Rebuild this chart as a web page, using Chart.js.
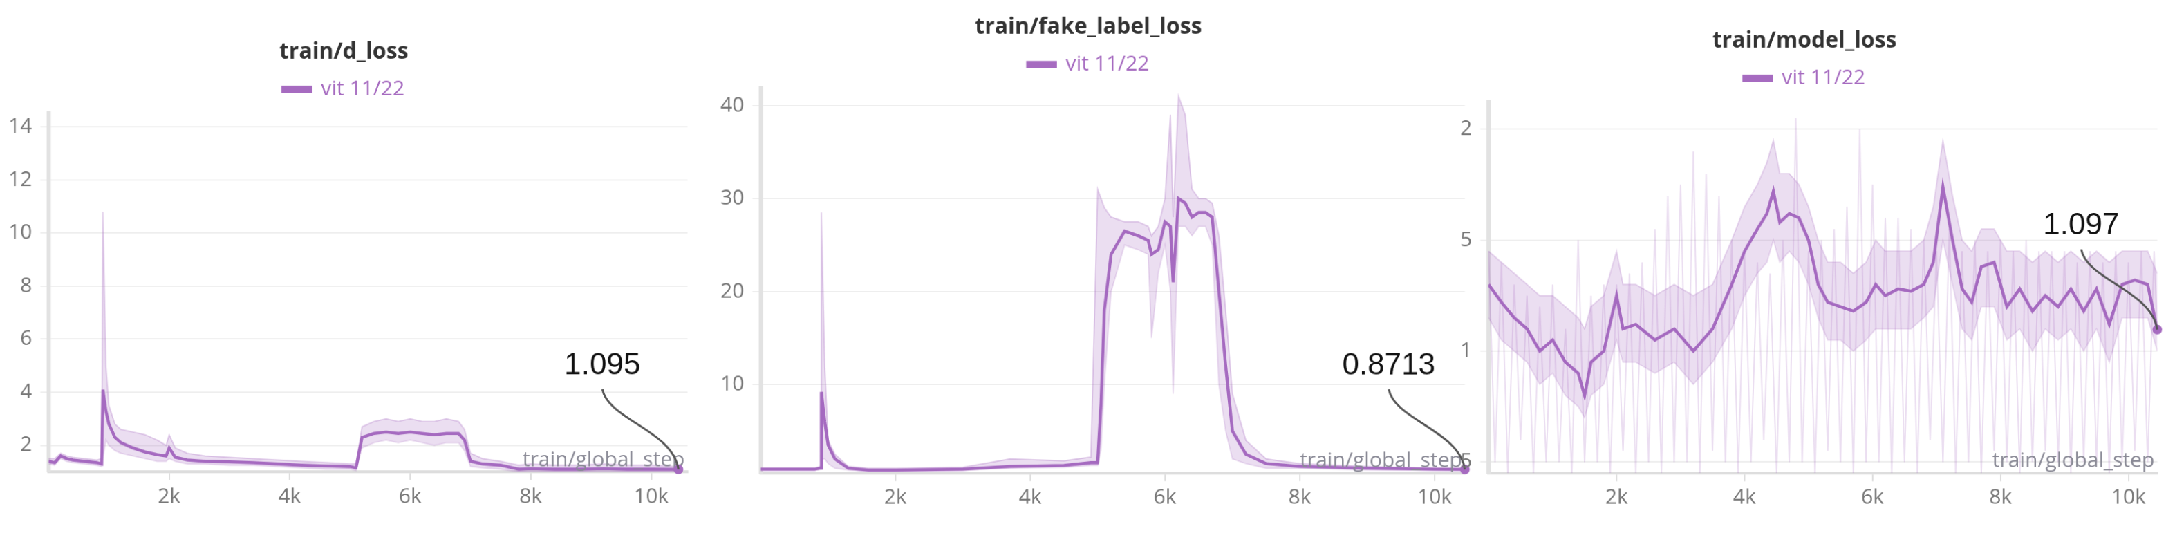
<!DOCTYPE html>
<html><head><meta charset="utf-8">
<script src="https://cdn.jsdelivr.net/npm/chart.js@4"></script>
<style>
body{margin:0;background:#fff;width:2168px;height:538px;position:relative;overflow:hidden}
#wrap{position:absolute;left:0;top:0;width:1568px;height:389px;transform:scale(1.3827);transform-origin:0 0}
.p{position:absolute}
</style></head><body>
<div id="wrap">
<div class="p" style="left:0;top:26px;width:505px;height:345px"><canvas id="c1"></canvas></div>
<div class="p" style="left:515px;top:8px;width:552px;height:364px"><canvas id="c2"></canvas></div>
<div class="p" style="left:1050px;top:18px;width:518px;height:354px"><canvas id="c3"></canvas></div>
</div>
<script>
const seriesName = "vit 11/22";
// Panel 1: train/d_loss
const steps1 = [0,100,200,300,400,600,800,880,900,950,1000,1100,1200,1400,1600,1800,1950,2000,2100,2300,2600,3000,3400,3800,4200,4600,5000,5100,5200,5400,5600,5800,6000,6200,6400,6600,6800,6900,7000,7200,7500,7800,8000,8400,8800,9200,9600,10000,10450];
const d_loss = [1.4,1.35,1.6,1.5,1.45,1.4,1.35,1.3,4.1,3.3,2.8,2.3,2.1,1.9,1.75,1.65,1.6,1.9,1.55,1.45,1.4,1.38,1.35,1.3,1.25,1.22,1.2,1.15,2.3,2.45,2.5,2.45,2.5,2.45,2.4,2.45,2.45,2.2,1.4,1.3,1.25,1.1,1.12,1.1,1.1,1.12,1.1,1.1,1.095];
const d_hi = [1.5,1.5,1.7,1.6,1.55,1.5,1.45,1.5,10.8,5,3.5,2.8,2.6,2.5,2.4,2.2,2.0,2.4,1.9,1.7,1.6,1.55,1.5,1.45,1.4,1.35,1.3,1.3,2.7,2.9,3.0,2.9,3.0,2.9,2.9,3.0,2.9,2.6,1.7,1.5,1.4,1.25,1.3,1.25,1.25,1.3,1.25,1.25,1.2];
const d_lo = [1.3,1.25,1.5,1.4,1.35,1.3,1.25,1.2,1.5,2.2,2.0,1.8,1.7,1.6,1.5,1.4,1.4,1.5,1.4,1.3,1.3,1.25,1.25,1.2,1.15,1.1,1.1,1.05,1.9,2.1,2.2,2.1,2.2,2.1,2.0,2.1,2.1,1.8,1.2,1.15,1.1,1.0,1.0,1.0,1.0,1.0,1.0,1.0,1.0];
const yTicks1 = [2,4,6,8,10,12,14];
// Panel 2: train/fake_label_loss
const steps2 = [0,400,800,880,900,950,1000,1100,1300,1600,2000,3000,3700,4500,4900,5000,5050,5100,5200,5400,5600,5750,5800,5900,6000,6080,6120,6200,6300,6400,6500,6600,6700,6800,6900,7000,7200,7500,8000,9000,10000,10450];
const fake_loss = [0.9,0.9,0.9,1,9.2,6,3.5,2,1.0,0.8,0.8,0.9,1.2,1.3,1.6,1.6,8,18,24,26.5,26,25.5,24,24.5,27.5,27,21,30,29.5,28,28.5,28.5,28,20,12,5,2.5,1.5,1.2,1.0,0.9,0.87];
const fake_hi = [1.0,1.0,1.0,1.2,28.5,12,4,2.5,1.2,1.0,1.0,1.1,2,1.8,2.2,31,30,29,28,27.5,27.5,27,26,27,30,39,28,41,39,31,30,30,29.5,26,18,9,4,2,1.5,1.2,1.0,1.0];
const fake_lo = [0.8,0.8,0.8,0.9,2,2,1.5,1.0,0.8,0.7,0.7,0.8,1.0,1.1,1.3,1.3,3,10,20,25,24.5,24,15,22,25,20,9,27,27,26,27,27,25,10,5,2,1.5,1.0,1.0,0.8,0.8,0.8];
const yTicks2 = [10,20,30,40];
// Panel 3: train/model_loss
const steps3 = [0,200,400,600,800,1000,1200,1400,1500,1600,1800,2000,2100,2300,2600,2900,3200,3500,3800,4000,4200,4350,4450,4550,4700,4850,5000,5150,5300,5500,5700,5900,6050,6200,6400,6600,6800,6950,7100,7250,7400,7550,7700,7900,8100,8300,8500,8700,8900,9100,9300,9500,9700,9900,10100,10300,10450];
const model_loss = [1.3,1.22,1.15,1.1,1.0,1.05,0.95,0.9,0.8,0.95,1.0,1.25,1.1,1.12,1.05,1.1,1.0,1.1,1.3,1.45,1.55,1.62,1.72,1.58,1.62,1.6,1.5,1.3,1.22,1.2,1.18,1.22,1.3,1.25,1.28,1.27,1.3,1.4,1.74,1.5,1.28,1.22,1.38,1.4,1.2,1.28,1.18,1.25,1.2,1.28,1.18,1.28,1.12,1.3,1.32,1.3,1.097];
const model_hi = [1.45,1.4,1.35,1.3,1.25,1.25,1.2,1.15,1.1,1.2,1.25,1.45,1.3,1.3,1.25,1.3,1.25,1.3,1.5,1.65,1.75,1.85,1.95,1.8,1.8,1.75,1.65,1.5,1.4,1.4,1.35,1.4,1.5,1.45,1.45,1.45,1.5,1.65,1.95,1.7,1.5,1.45,1.55,1.55,1.45,1.45,1.4,1.45,1.4,1.45,1.4,1.45,1.4,1.45,1.45,1.45,1.35];
const model_lo = [1.15,1.05,1.0,0.95,0.85,0.9,0.8,0.75,0.7,0.8,0.85,1.05,0.95,0.95,0.9,0.95,0.85,0.95,1.1,1.25,1.35,1.4,1.5,1.4,1.45,1.4,1.3,1.15,1.05,1.05,1.0,1.05,1.1,1.1,1.1,1.1,1.15,1.2,1.5,1.3,1.1,1.05,1.2,1.2,1.05,1.1,1.0,1.1,1.05,1.1,1.0,1.1,0.95,1.15,1.15,1.15,1.0];
const raw3 = [1.45,0.5,1.4,0.45,1.3,0.6,1.25,0.45,1.2,0.5,1.3,0.5,1.1,0.45,1.5,0.5,1.25,0.5,1.3,0.45,1.3,0.55,1.35,0.45,1.4,0.5,1.55,0.45,1.7,0.5,1.75,0.5,1.9,0.45,1.8,0.55,1.7,0.5,1.5,0.45,1.45,0.5,1.4,0.6,1.35,0.45,1.5,0.5,2.05,0.5,1.45,0.45,1.5,0.55,1.55,0.5,1.65,0.45,2.0,0.5,1.75,0.5,1.6,0.45,1.6,0.5,1.55,0.45,1.5,0.6,1.45,0.5,1.55,0.45,1.45,0.5,1.5,0.45,1.45,0.55,1.5,0.5,1.45,0.45,1.5,0.5,1.45,0.55,1.45,0.5,1.45,0.45,1.4,0.5,1.45,0.5,1.4,0.45,1.45,0.5,1.4,0.55,1.45,0.5,1.45,1.1];
const rawSteps3 = raw3.map((_, i) => Math.min(i * 100, 10450));
const yTicks3 = [0.5,1,1.5,2];
const yLabels3 = {"0.5":"5","1":"1","1.5":"5","2":"2"};
const xTicks = [2000,4000,6000,8000,10000];

const PURPLE = '#a66bc0', LIGHT = 'rgba(166,107,192,0.22)';
const FONT = '"Open Sans","Noto Sans",sans-serif';
const DPR = 1.3827 * 1.5;
const pts = (xs, ys) => xs.map((x, i) => ({x, y: ys[i]}));

const annot = (label) => ({
  id: 'annot',
  afterDatasetsDraw(chart) {
    const ds = chart.data.datasets;
    const meta = chart.getDatasetMeta(ds.length - 1);
    const p = meta.data[meta.data.length - 1];
    const ctx = chart.ctx, a = chart.chartArea;
    ctx.save();
    ctx.fillStyle = '#8a8a96'; ctx.font = '15px ' + FONT; ctx.textAlign = 'right'; ctx.textBaseline = 'bottom';
    ctx.fillText('train/global_step', a.right - 2, a.bottom - 1);
    ctx.fillStyle = PURPLE; ctx.beginPath(); ctx.arc(p.x, p.y, 3.5, 0, 7); ctx.fill();
    ctx.strokeStyle = '#555'; ctx.lineWidth = 1.5; ctx.beginPath();
    const tx = p.x - 55, ty = p.y - 58;
    ctx.moveTo(tx, ty); ctx.bezierCurveTo(tx + 4, ty + 22, p.x - 4, ty + 30, p.x, p.y); ctx.stroke();
    ctx.fillStyle = '#111'; ctx.font = '22px "Liberation Sans",Arial,sans-serif'; ctx.textAlign = 'center'; ctx.textBaseline = 'bottom';
    ctx.fillText(label, tx, ty - 6);
    ctx.restore();
  }
});

function make(id, title, datasets, ymin, ymax, yticks, ylab, label, xmax) {
  new Chart(document.getElementById(id), {
    type: 'line',
    data: {datasets},
    options: {
      responsive: true, maintainAspectRatio: false, animation: false, devicePixelRatio: DPR,
      layout: {padding: {right: 8}},
      elements: {point: {radius: 0}, line: {tension: 0}},
      plugins: {
        title: {display: true, text: title, color: '#333', font: {family: FONT, size: 16, weight: 'bold'}, padding: {top: 2, bottom: 2}},
        legend: {display: true, labels: {filter: it => it.text === seriesName, color: PURPLE, font: {family: FONT, size: 15}, boxWidth: 20, boxHeight: 3, padding: 8}},
        tooltip: {enabled: false}
      },
      scales: {
        x: {type: 'linear', min: 0, max: xmax, afterBuildTicks: s => { s.ticks = xTicks.map(v => ({value: v})); },
            ticks: {color: '#777', font: {family: FONT, size: 15}, callback: v => (v / 1000) + 'k'},
            grid: {drawOnChartArea: false, color: '#ddd', tickLength: 6}, border: {color: '#ddd', width: 2}},
        y: {min: ymin, max: ymax, afterBuildTicks: s => { s.ticks = yticks.map(v => ({value: v})); },
            ticks: {color: '#777', font: {family: FONT, size: 15}, callback: v => ylab ? ylab[String(v)] : v, padding: 6},
            grid: {color: '#eeeeee', tickLength: 6}, border: {color: '#e2e2e2', width: 3}}
      }
    },
    plugins: [annot(label)]
  });
}

make('c1', 'train/d_loss', [
  {label: 'hi', data: pts(steps1, d_hi), borderColor: 'rgba(166,107,192,0.3)', borderWidth: 1, fill: '+1', backgroundColor: LIGHT},
  {label: 'lo', data: pts(steps1, d_lo), borderColor: 'rgba(166,107,192,0.2)', borderWidth: 1, fill: false},
  {label: seriesName, data: pts(steps1, d_loss), borderColor: PURPLE, backgroundColor: PURPLE, borderWidth: 2.2, fill: false}
], 1, 14.5, yTicks1, null, '1.095', 10600);

make('c2', 'train/fake_label_loss', [
  {label: 'hi', data: pts(steps2, fake_hi), borderColor: 'rgba(166,107,192,0.3)', borderWidth: 1, fill: '+1', backgroundColor: LIGHT},
  {label: 'lo', data: pts(steps2, fake_lo), borderColor: 'rgba(166,107,192,0.2)', borderWidth: 1, fill: false},
  {label: seriesName, data: pts(steps2, fake_loss), borderColor: PURPLE, backgroundColor: PURPLE, borderWidth: 2.2, fill: false}
], 0.5, 41.8, yTicks2, null, '0.8713', 10450);

make('c3', 'train/model_loss', [
  {label: 'raw', data: pts(rawSteps3, raw3), borderColor: 'rgba(166,107,192,0.22)', borderWidth: 1, fill: false},
  {label: 'hi', data: pts(steps3, model_hi), borderColor: 'rgba(166,107,192,0.25)', borderWidth: 1, fill: '+1', backgroundColor: LIGHT},
  {label: 'lo', data: pts(steps3, model_lo), borderColor: 'rgba(166,107,192,0.2)', borderWidth: 1, fill: false},
  {label: seriesName, data: pts(steps3, model_loss), borderColor: PURPLE, backgroundColor: PURPLE, borderWidth: 2.2, fill: false}
], 0.45, 2.12, yTicks3, yLabels3, '1.097', 10450);
</script>
</body></html>
